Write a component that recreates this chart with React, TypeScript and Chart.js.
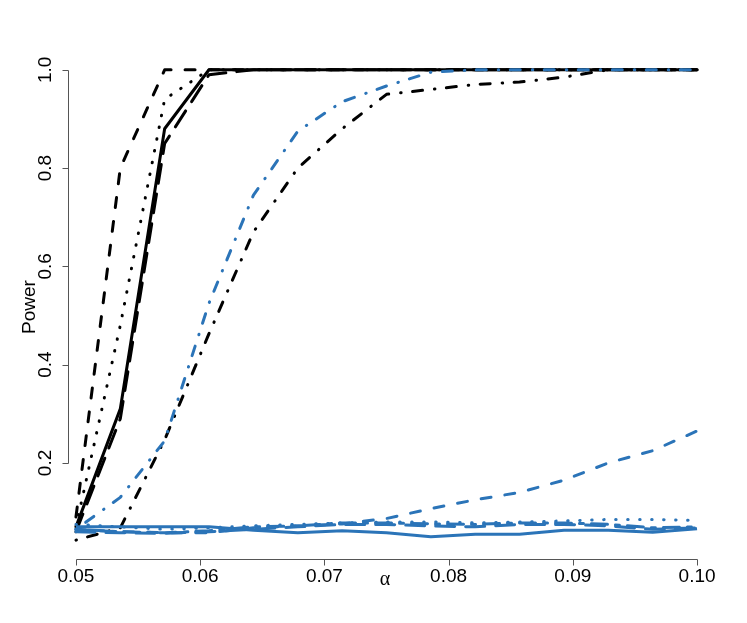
import React, { useEffect, useRef } from "react";
import { Chart, registerables } from "chart.js";

Chart.register(...registerables);

// alpha grid (x values)
const alphaValues = [0.05, 0.05357, 0.05714, 0.06071, 0.06429, 0.06786, 0.07143, 0.075, 0.07857, 0.08214, 0.08571, 0.08929, 0.09286, 0.09643, 0.1];

// black series
const blackSolid = [0.07, 0.31, 0.88, 1.0, 1.0, 1.0, 1.0, 1.0, 1.0, 1.0, 1.0, 1.0, 1.0, 1.0, 1.0];
const blackDashed = [0.09, 0.8, 1.0, 1.0, 1.0, 1.0, 1.0, 1.0, 1.0, 1.0, 1.0, 1.0, 1.0, 1.0, 1.0];
const blackDotted = [0.07, 0.48, 0.94, 1.0, 1.0, 1.0, 1.0, 1.0, 1.0, 1.0, 1.0, 1.0, 1.0, 1.0, 1.0];
const blackDotDash = [0.043, 0.068, 0.247, 0.463, 0.67, 0.8, 0.88, 0.95, 0.96, 0.97, 0.975, 0.985, 1.0, 1.0, 1.0];
const blackLongDash = [0.06, 0.29, 0.85, 0.99, 1.0, 1.0, 1.0, 1.0, 1.0, 1.0, 1.0, 1.0, 1.0, 1.0, 1.0];

// blue series
const blueSolid = [0.07, 0.07, 0.07, 0.07, 0.063, 0.058, 0.062, 0.058, 0.05, 0.055, 0.055, 0.063, 0.063, 0.059, 0.066];
const blueDashed = [0.065, 0.06, 0.058, 0.058, 0.068, 0.072, 0.076, 0.087, 0.107, 0.125, 0.14, 0.165, 0.2, 0.225, 0.265];
const blueDotted = [0.075, 0.07, 0.065, 0.068, 0.072, 0.075, 0.078, 0.08, 0.08, 0.078, 0.08, 0.082, 0.085, 0.085, 0.083];
const blueDotDash = [0.065, 0.13, 0.245, 0.525, 0.745, 0.875, 0.935, 0.967, 0.995, 1.0, 1.0, 1.0, 1.0, 1.0, 1.0];
const blueLongDash = [0.06, 0.058, 0.057, 0.06, 0.065, 0.07, 0.075, 0.075, 0.072, 0.07, 0.075, 0.075, 0.072, 0.065, 0.068];
const blueTwoDash = [0.065, 0.06, 0.058, 0.062, 0.07, 0.072, 0.078, 0.078, 0.076, 0.075, 0.078, 0.078, 0.075, 0.068, 0.07];

// axis ticks
const xTicks = [0.05, 0.06, 0.07, 0.08, 0.09, 0.1];
const xTickLabels = ["0.05", "0.06", "0.07", "0.08", "0.09", "0.10"];
const yTicks = [0.2, 0.4, 0.6, 0.8, 1.0];
const yTickLabels = ["0.2", "0.4", "0.6", "0.8", "1.0"];

const BLACK = "#000000";
const BLUE = "#2B74B8";

const DASH = {
  solid: [] as number[],
  dashed: [10, 14],
  dotted: [0.5, 11.5],
  dotdash: [0.5, 11.5, 10, 12],
  longdash: [19, 11],
  twodash: [4, 8, 16, 8],
};

function mk(label: string, values: number[], color: string, dash: number[]) {
  return {
    label,
    data: values.map((v, i) => ({ x: alphaValues[i], y: v })),
    borderColor: color,
    backgroundColor: color,
    borderWidth: 3,
    borderDash: dash,
    borderCapStyle: dash.length ? "round" : "butt",
    borderJoinStyle: "round",
    pointRadius: 0,
    tension: 0,
    fill: false,
  };
}

const FONT = '19px "Liberation Sans", Arial, Helvetica, sans-serif';

const rAxes = {
  id: "rAxes",
  afterDraw(chart: any) {
    const { ctx, chartArea, scales } = chart;
    const x = scales.x;
    const y = scales.y;
    ctx.save();
    ctx.strokeStyle = "#555555";
    ctx.lineWidth = 1;
    // x axis
    const yb = Math.round(chartArea.bottom) + 0.5;
    ctx.beginPath();
    ctx.moveTo(Math.round(x.getPixelForValue(xTicks[0])) + 0.5, yb);
    ctx.lineTo(Math.round(x.getPixelForValue(xTicks[xTicks.length - 1])) + 0.5, yb);
    xTicks.forEach((t) => {
      const px = Math.round(x.getPixelForValue(t)) + 0.5;
      ctx.moveTo(px, yb);
      ctx.lineTo(px, yb + 6);
    });
    // y axis
    const xl = Math.round(chartArea.left) + 0.5;
    ctx.moveTo(xl, Math.round(y.getPixelForValue(yTicks[0])) + 0.5);
    ctx.lineTo(xl, Math.round(y.getPixelForValue(yTicks[yTicks.length - 1])) + 0.5);
    yTicks.forEach((t) => {
      const py = Math.round(y.getPixelForValue(t)) + 0.5;
      ctx.moveTo(xl, py);
      ctx.lineTo(xl - 6, py);
    });
    ctx.stroke();

    ctx.fillStyle = "#000000";
    ctx.font = FONT;
    ctx.textAlign = "center";
    ctx.textBaseline = "alphabetic";
    xTicks.forEach((t, i) => {
      ctx.fillText(xTickLabels[i], x.getPixelForValue(t), chartArea.bottom + 23);
    });
    yTicks.forEach((t, i) => {
      ctx.save();
      ctx.translate(chartArea.left - 17, y.getPixelForValue(t));
      ctx.rotate(-Math.PI / 2);
      ctx.fillText(yTickLabels[i], 0, 0);
      ctx.restore();
    });
    // axis titles
    ctx.save();
    ctx.translate(35, 307);
    ctx.rotate(-Math.PI / 2);
    ctx.fillText("Power", 0, 0);
    ctx.restore();
    ctx.font = '20px "Liberation Serif", "DejaVu Serif", serif';
    ctx.textBaseline = "middle";
    ctx.fillText("α", 385, 580);
    ctx.restore();
  },
};

export default function App() {
  const ref = useRef<HTMLCanvasElement>(null);
  useEffect(() => {
    document.body.style.margin = "0";
    const canvas = ref.current;
    if (!canvas) return;
    const chart = new Chart(canvas, {
      type: "line",
      data: {
        datasets: [
          mk("blue dot-dash", blueDotDash, BLUE, DASH.dotdash),
          mk("blue dashed", blueDashed, BLUE, DASH.dashed),
          mk("blue dotted", blueDotted, BLUE, DASH.dotted),
          mk("blue long-dash", blueLongDash, BLUE, DASH.longdash),
          mk("blue two-dash", blueTwoDash, BLUE, DASH.twodash),
          mk("blue solid", blueSolid, BLUE, DASH.solid),
          mk("black solid", blackSolid, BLACK, DASH.solid),
          mk("black dashed", blackDashed, BLACK, DASH.dashed),
          mk("black dotted", blackDotted, BLACK, DASH.dotted),
          mk("black long-dash", blackLongDash, BLACK, DASH.longdash),
          mk("black dot-dash", blackDotDash, BLACK, DASH.dotdash),
        ] as any,
      },
      options: {
        animation: false,
        responsive: false,
        devicePixelRatio: 1,
        layout: { padding: { left: 0, right: 42, top: 51, bottom: 0 } },
        plugins: { legend: { display: false }, tooltip: { enabled: false } },
        scales: {
          x: {
            type: "linear",
            min: 0.04936,
            max: 0.10064,
            grid: { display: false },
            border: { display: false },
            ticks: { display: false },
            afterFit: (s: any) => {
              s.height = 64;
            },
          },
          y: {
            type: "linear",
            min: 0.00458,
            max: 1.0382,
            grid: { display: false },
            border: { display: false },
            ticks: { display: false },
            afterFit: (s: any) => {
              s.width = 68;
            },
          },
        },
      },
      plugins: [rAxes],
    });
    return () => chart.destroy();
  }, []);
  return (
    <div style={{ width: 747, height: 623, background: "#ffffff" }}>
      <canvas ref={ref} width={747} height={623} style={{ display: "block" }} />
    </div>
  );
}
